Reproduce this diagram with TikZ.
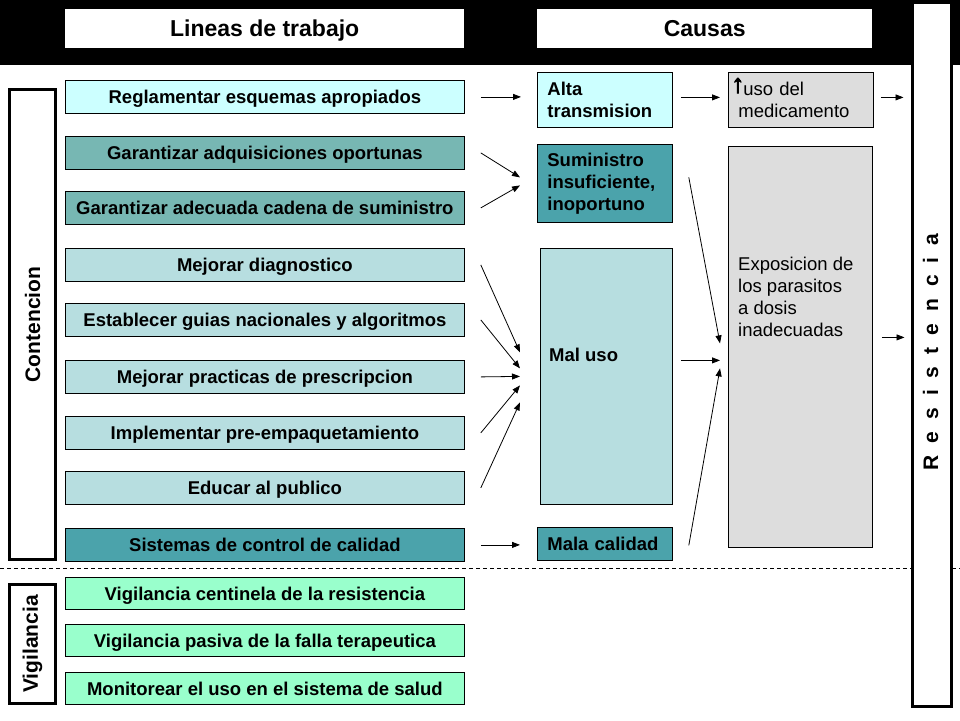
\documentclass[tikz,border=0pt]{standalone}
\usepackage{fontspec}
\setmainfont{Liberation Sans}
\newfontfamily\uparrowfont[FakeBold=3]{Liberation Sans Bold}
\usetikzlibrary{arrows.meta,calc}
\definecolor{lcyan}{HTML}{CCFFFF}
\definecolor{tealA}{HTML}{77B7B3}
\definecolor{tealB}{HTML}{4BA3AB}
\definecolor{lblue}{HTML}{B7DEE0}
\definecolor{mint}{HTML}{99FFCC}
\definecolor{lgray}{HTML}{DDDDDD}
\begin{document}
\begin{tikzpicture}[x=1pt,y=-1pt,
  lbox/.style={draw=black,line width=0.8pt,minimum width=399pt,minimum height=33pt,inner sep=0pt,anchor=north west,
    text height=13.3pt,text depth=0pt,font=\bfseries\fontsize{18.5}{22}\selectfont},
  cbox/.style={draw=black,line width=0.8pt,inner xsep=10pt,inner ysep=0pt,anchor=north west,align=left,
    font=\bfseries\fontsize{18.5}{22}\selectfont},
  gbox/.style={draw=black,line width=0.8pt,inner sep=0pt,anchor=north west,fill=lgray},
  hbox/.style={fill=white,inner sep=0pt,minimum height=39pt,anchor=north west,text height=16.5pt,text depth=0pt,
    font=\bfseries\fontsize{23}{27}\selectfont},
  sidebox/.style={draw=black,line width=3pt,fill=white,inner sep=0pt,rotate=90,minimum height=46pt,
    font=\bfseries\fontsize{21}{25}\selectfont},
  arr/.style={-{Triangle[length=8pt,width=6pt]},line width=0.8pt}
]
\useasboundingbox (0,0) rectangle (960,720);
% header band
\fill[black] (0,0) rectangle (960,65);
% separator
\draw[line width=0.8pt,dash pattern=on 4pt off 3pt] (0,568) -- (960,568);

% headers
\node[hbox,minimum width=399pt] (hl) at (65,9) {Lineas de trabajo};
\node[hbox,minimum width=335pt] (hc) at (537,9) {Causas};

% resistencia
\node[draw=black,line width=3pt,fill=white,minimum width=39pt,minimum height=704pt,inner sep=0pt] (resist) at (931.5,354) {};
\node[rotate=90,font=\bfseries\fontsize{21}{25}\selectfont] (restext) at (930.5,352)
  {R\hspace{12pt}e\hspace{12pt}s\hspace{12pt}i\hspace{12pt}s\hspace{12pt}t\hspace{12pt}e\hspace{12pt}n\hspace{12pt}c\hspace{12pt}i\hspace{12pt}a};

% side boxes
\node[sidebox,minimum width=470pt] (conten) at (32.5,324.5) {Contencion};
\node[sidebox,minimum width=119pt] (vigil) at (32.5,644) {Vigilancia};

% left boxes
\node[lbox,fill=lcyan] (r1) at (65,80) {Reglamentar esquemas apropiados};
\node[lbox,fill=tealA] (r2) at (65,136) {Garantizar adquisiciones oportunas};
\node[lbox,fill=tealA] (r3) at (65,191) {Garantizar adecuada cadena de suministro};
\node[lbox,fill=lblue] (r4) at (65,248) {Mejorar diagnostico};
\node[lbox,fill=lblue] (r5) at (65,303) {Establecer guias nacionales y algoritmos};
\node[lbox,fill=lblue] (r6) at (65,360) {Mejorar practicas de prescripcion};
\node[lbox,fill=lblue] (r7) at (65,416) {Implementar pre-empaquetamiento};
\node[lbox,fill=lblue] (r8) at (65,471) {Educar al publico};
\node[lbox,fill=tealB] (r9) at (65,528) {Sistemas de control de calidad};
\node[lbox,fill=mint,minimum height=32pt] (v1) at (65,577) {Vigilancia centinela de la resistencia};
\node[lbox,fill=mint,minimum height=32pt] (v2) at (65,624) {Vigilancia pasiva de la falla terapeutica};
\node[lbox,fill=mint,minimum height=32pt] (v3) at (65,672) {Monitorear el uso en el sistema de salud};

% cause boxes
\node[cbox,fill=lcyan,text width=115pt,minimum height=55pt] (alta) at (537,72) {Alta\\transmision};
\node[cbox,fill=tealB,text width=115pt,minimum height=78pt] (sumin) at (537,144) {Suministro\\insuficiente,\\inoportuno};
\node[gbox,fill=lblue,minimum width=132pt,minimum height=256pt] (maluso) at (540,248) {};
\node[anchor=west,inner sep=0pt,font=\bfseries\fontsize{18.5}{22}\selectfont] (malusotext) at (549,355) {Mal uso};
\node[cbox,fill=tealB,text width=115pt,minimum height=33pt,text height=13.3pt,text depth=0pt] (mala) at (537,527) {Mala calidad};
\node[cbox,fill=lgray,text width=125pt,minimum height=55pt,font=\fontsize{18.5}{22}\selectfont] (usomed) at (728,72)
  {\hspace*{-7pt}\smash{\raisebox{3pt}{\uparrowfont\fontsize{26}{22}\selectfont ↑}}\hspace{-1pt}uso del\\medicamento};
\node[gbox,minimum width=144pt,minimum height=401pt] (expo) at (728,146) {};
\node[anchor=north west,inner sep=0pt,align=left,font=\fontsize{18.5}{22}\selectfont] (expotext) at (738,256.5)
  {Exposicion de\\los parasitos\\a dosis\\inadecuadas};

% arrows
\draw[arr] ($(r1.east)+(16,0)$) -- ($(r1.east -| alta.west)+(-16,0)$);
\draw[arr] ($(alta.east)+(8,-2.5)$) -- ($(usomed.west)+(-8,-2.5)$);
\draw[arr] ($(usomed.east)+(7,-2.5)$) -- ($(usomed.east -| resist.west)+(-7,-2.5)$);
\draw[arr] ($(r2.east)+(16,0)$) -- ($(sumin.west)+(-17,-6)$);
\draw[arr] ($(r3.east)+(16,0)$) -- ($(sumin.west)+(-17,2)$);
\draw[arr] ($(r4.east)+(16,0)$) -- ($(maluso.west)+(-20,-24)$);
\draw[arr] ($(r5.east)+(16,0)$) -- ($(maluso.west)+(-20,-8)$);
\draw[arr] ($(r6.east)+(16,0)$) -- ($(maluso.west)+(-20,0)$);
\draw[arr] ($(r7.east)+(16,0)$) -- ($(maluso.west)+(-20,9)$);
\draw[arr] ($(r8.east)+(16,0)$) -- ($(maluso.west)+(-20,26)$);
\draw[arr] ($(r9.east)+(16,0)$) -- ($(r9.east -| mala.west)+(-17,0)$);
\draw[arr] ($(sumin.east)+(16,-6)$) -- ($(expo.west)+(-8,-3.5)$);
\draw[arr] ($(maluso.east)+(8,-16)$) -- ($(expo.west)+(-8,13.5)$);
\draw[arr] ($(mala.east)+(16,1.5)$) -- ($(expo.west)+(-8,21.5)$);
\draw[arr] ($(expo.east)+(9,-9.5)$) -- ($(expo.east -| resist.west)+(-6,-9.5)$);
\end{tikzpicture}
\end{document}
